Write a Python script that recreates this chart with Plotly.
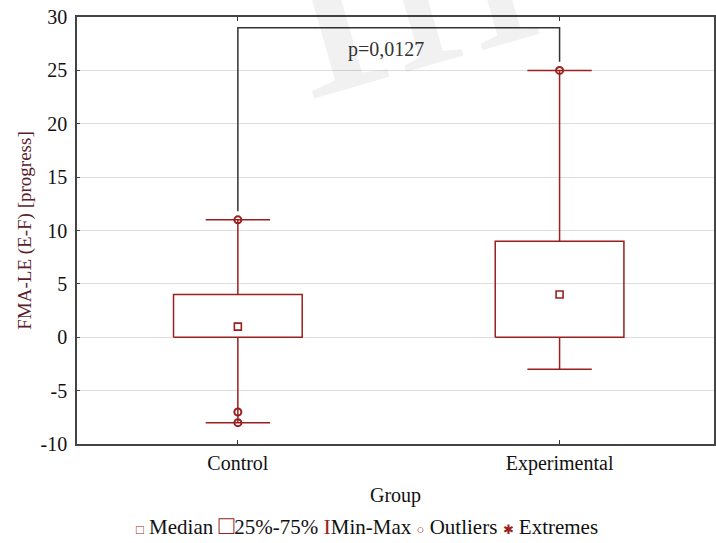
import plotly.graph_objects as go

# ---- data ----
groups = ["Control", "Experimental"]
mins = [-8, -3]
q1s = [0, 0]
medians = [1, 4]
q3s = [4, 9]
maxs = [11, 25]
outlier_group = [0, 0, 0, 1]
outlier_vals = [11, -7, -8, 25]
p_label = "p=0,0127"
legend_labels = ["Median", "25%-75%", "Min-Max", "Outliers", "Extremes"]
y_ticks = [-10, -5, 0, 5, 10, 15, 20, 25, 30]
y_ticktext = ["-10", "-5", "0", "5", "10", "15", "20", "25", "30"]

# ---- style ----
RED = "#9a1f1f"
FONT = "Liberation Serif, Times New Roman, serif"
BOX_HALF = 0.2
CAP_HALF = 0.1

xs = list(range(len(groups)))

# box rectangles
bx, by = [], []
for i in xs:
    bx += [i - BOX_HALF, i + BOX_HALF, i + BOX_HALF, i - BOX_HALF, i - BOX_HALF, None]
    by += [q1s[i], q1s[i], q3s[i], q3s[i], q1s[i], None]

# whiskers + caps
wx, wy = [], []
for i in xs:
    wx += [i, i, None, i, i, None, i - CAP_HALF, i + CAP_HALF, None, i - CAP_HALF, i + CAP_HALF, None]
    wy += [q3s[i], maxs[i], None, q1s[i], mins[i], None, maxs[i], maxs[i], None, mins[i], mins[i], None]

fig = go.Figure()
fig.add_trace(go.Scatter(x=wx, y=wy, mode="lines", line=dict(color=RED, width=1.5),
                         showlegend=False, hoverinfo="skip"))
fig.add_trace(go.Scatter(x=bx, y=by, mode="lines", line=dict(color=RED, width=1.5),
                         showlegend=False, hoverinfo="skip"))
fig.add_trace(go.Scatter(x=xs, y=medians, mode="markers",
                         marker=dict(symbol="square-open", size=7, color=RED, line=dict(width=1.6)),
                         showlegend=False))
fig.add_trace(go.Scatter(x=outlier_group, y=outlier_vals, mode="markers",
                         marker=dict(symbol="circle-open", size=7, color=RED, line=dict(width=2)),
                         showlegend=False))

# significance bracket
left_g, right_g = 0, 1
bracket_top = 29
fig.add_trace(go.Scatter(x=[left_g, left_g, right_g, right_g],
                         y=[maxs[left_g] + 0.8, bracket_top, bracket_top, maxs[right_g] + 0.8],
                         mode="lines", line=dict(color="#333333", width=1.5),
                         showlegend=False, hoverinfo="skip"))
fig.add_annotation(x=(left_g + right_g) / 2 - 0.04, y=bracket_top - 2.0, text=p_label, showarrow=False,
                   font=dict(family=FONT, size=20, color="#333333"))

# faint watermark
fig.add_annotation(xref="paper", yref="paper", x=0.5, y=1.11, text="In", showarrow=False,
                   textangle=-16, yanchor="middle",
                   font=dict(family=FONT, size=300, color="rgba(0,0,0,0.055)"))

# legend built as text
sym = [
    f'<span style="color:{RED};font-size:13px">□</span> ',
    f'<span style="color:{RED};font-size:26px">□</span>',
    f'<span style="color:{RED};font-size:22px">I</span>',
    f'<span style="color:{RED};font-size:13px">○</span> ',
    f'<span style="color:{RED};font-size:13px">✱</span> ',
]
legend_text = " ".join(s + lab for s, lab in zip(sym, legend_labels))
fig.add_annotation(xref="paper", yref="paper", x=0.455, y=-0.192, text=legend_text,
                   showarrow=False, yanchor="middle",
                   font=dict(family=FONT, size=21, color="#111111"))

fig.update_layout(
    width=716, height=543,
    margin=dict(l=77, r=0, t=17, b=99),
    paper_bgcolor="white", plot_bgcolor="white",
    font=dict(family=FONT, size=20, color="#111111"),
    showlegend=False,
    xaxis=dict(
        range=[-0.5, 1.48], tickvals=xs, ticktext=groups,
        ticks="inside", ticklen=4, tickcolor="#333333",
        showline=True, linecolor="#444444", linewidth=1.5, mirror="ticks",
        showgrid=False, zeroline=False,
        title=dict(text="Group", font=dict(family=FONT, size=20, color="#111111"), standoff=14),
        tickfont=dict(family=FONT, size=20, color="#111111"),
    ),
    yaxis=dict(
        range=[-10, 30], tickvals=y_ticks, ticktext=y_ticktext,
        showline=True, linecolor="#444444", linewidth=1.5, mirror=True,
        showgrid=True, gridcolor="#dddddd", gridwidth=1, zeroline=False,
        ticks="inside", ticklen=3, tickcolor="#444444", ticklabelstandoff=4,
        title=dict(text="FMA-LE (E-F) [progress]", font=dict(family=FONT, size=19, color="#5a1e2c"), standoff=4),
        tickfont=dict(family=FONT, size=20, color="#111111"),
    ),
)

fig.write_html("out.html")
